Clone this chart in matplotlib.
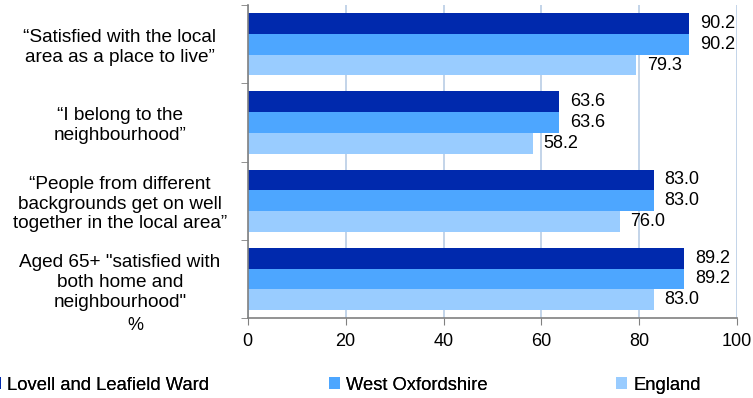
import numpy as np
import matplotlib.pyplot as plt
from matplotlib.patches import Patch

plt.rcParams['font.family'] = ['Liberation Sans', 'DejaVu Sans']

# data
categories = ['\u201cSatisfied with the local\narea as a place to live\u201d',
              '\u201cI belong to the\nneighbourhood\u201d',
              '\u201cPeople from different\nbackgrounds get on well\ntogether in the local area\u201d',
              'Aged 65+ "satisfied with\nboth home and\nneighbourhood"']
series_names = ['Lovell and Leafield Ward', 'West Oxfordshire', 'England']
ward = [90.2, 63.6, 83.0, 89.2]
west_oxon = [90.2, 63.6, 83.0, 89.2]
england = [79.3, 58.2, 76.0, 83.0]
colors = ['#0029AD', '#4DA6FF', '#99CCFF']

fs = 13

fig = plt.figure(figsize=(7.53, 3.98), dpi=100)
ax = fig.add_axes([0.329, 0.201, 0.650, 0.786])

y = np.arange(len(categories))
h = 0.265
for i, (vals, col) in enumerate(zip([ward, west_oxon, england], colors)):
    pos = y + (i - 1) * h
    ax.barh(pos, vals, height=h, color=col, zorder=2)
    for p, v in zip(pos, vals):
        ax.text(v + 2.2, p, f'{v:.1f}', va='center', ha='left', fontsize=fs)

ax.set_ylim(len(categories) - 0.5, -0.5)
ax.set_xlim(0, 100)
ax.set_xticks(np.arange(0, 101, 20))
ax.set_yticks(y)
ax.set_yticks(np.arange(-0.5, len(categories), 1), minor=True)
ax.set_yticklabels(categories, ha='center', fontsize=13.7, linespacing=1.22)
ax.tick_params(axis='y', which='major', length=0, pad=92)
ax.tick_params(axis='y', which='minor', length=5, color='#808080')
ax.tick_params(axis='x', length=5, color='#808080', labelsize=fs, pad=6)
ax.xaxis.grid(True, color='#B9CDE5', linewidth=1.2, zorder=0)
for s in ['top', 'right']:
    ax.spines[s].set_visible(False)
for s in ['left', 'bottom']:
    ax.spines[s].set_color('#808080')
    ax.spines[s].set_linewidth(1.2)

fig.text(135 / 753, 1 - 326 / 398, '%', ha='center', va='center', fontsize=fs)

# legend entries placed separately (uneven spacing in the original)
leg_x = [-10, 329, 616]
for name, col, lx in zip(series_names, colors, leg_x):
    lg = fig.legend([Patch(facecolor=col, edgecolor='none')], [name], loc='center left',
                    bbox_to_anchor=(lx / 753, 1 - 385 / 398), frameon=False, fontsize=13.2,
                    handlelength=0.6, handleheight=0.6, handletextpad=0.35,
                    borderaxespad=0, borderpad=0)
    fig.add_artist(lg)

fig.savefig('out.png', dpi=100)
